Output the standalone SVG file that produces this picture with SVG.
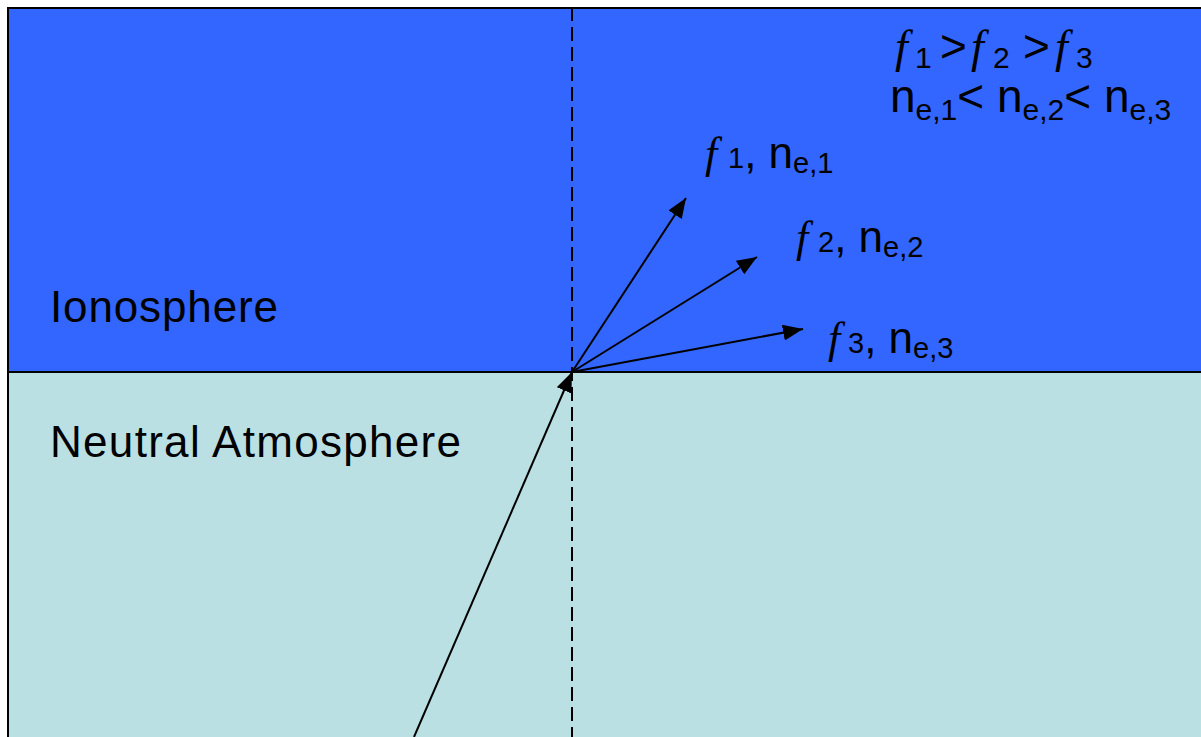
<svg xmlns="http://www.w3.org/2000/svg" width="1201" height="737" viewBox="0 0 1201 737">
<style>
.t{font-family:"Liberation Sans",Arial,sans-serif;font-size:44px;fill:#000}
.f{font-family:"Liberation Serif","Times New Roman",serif;font-style:italic}
.s{font-size:29px}
.big{font-size:46px}
.big .s{font-size:30px}
.ln{stroke:#000;stroke-width:2;fill:none}
</style>
<defs>
<marker id="ah" viewBox="0 0 20 16" refX="20" refY="8" markerWidth="20" markerHeight="16" markerUnits="userSpaceOnUse" orient="auto">
<path d="M0,0 L20,8 L0,16 Z" fill="#000"/>
</marker>
</defs>
<rect x="0" y="0" width="1201" height="737" fill="#fff"/>
<g id="ionosphere">
<rect x="7" y="7" width="1194" height="365" fill="#3366FF"/>
<text class="t" x="50" y="322" textLength="228">Ionosphere</text>
</g>
<g id="neutral-atmosphere">
<rect x="7" y="372" width="1194" height="365" fill="#BAE0E3"/>
<text class="t" x="50" y="457" textLength="411">Neutral Atmosphere</text>
</g>
<g id="borders">
<path class="ln" d="M7,8 H1201 M8,7 V737"/>
<path class="ln" d="M7,372 H1201"/>
<path class="ln" d="M572,7 V737" stroke-dasharray="14 6"/>
</g>
<g id="connectors">
<path class="ln" d="M414,737 L572,372" marker-end="url(#ah)"/>
<path class="ln" d="M572,372 L686,198" marker-end="url(#ah)"/>
<path class="ln" d="M572,372 L757,257" marker-end="url(#ah)"/>
<path class="ln" d="M572,372 L803,329" marker-end="url(#ah)"/>
</g>
<g id="relations">
<text class="t big" y="62"><tspan class="f" x="895">f</tspan><tspan class="s" x="915" dy="6">1</tspan><tspan x="940" dy="-6">&gt;</tspan><tspan class="f" x="971">f</tspan><tspan class="s" x="993" dy="6">2</tspan><tspan x="1023" dy="-6">&gt;</tspan><tspan class="f" x="1055">f</tspan><tspan class="s" x="1076" dy="6">3</tspan></text>
<text class="t big" y="112"><tspan x="890">n</tspan><tspan class="s" dy="8">e,1</tspan><tspan dy="-8">&lt; n</tspan><tspan class="s" dy="8">e,2</tspan><tspan dy="-8">&lt; n</tspan><tspan class="s" dy="8">e,3</tspan></text>
</g>
<g id="label-f1">
<text class="t" y="168"><tspan class="f" x="705">f</tspan><tspan class="s" x="728">1</tspan><tspan>, n</tspan><tspan class="s" dy="5">e,1</tspan></text>
</g>
<g id="label-f2">
<text class="t" y="252"><tspan class="f" x="796">f</tspan><tspan class="s" x="818">2</tspan><tspan>, n</tspan><tspan class="s" dy="5">e,2</tspan></text>
</g>
<g id="label-f3">
<text class="t" y="353"><tspan class="f" x="828">f</tspan><tspan class="s" x="848">3</tspan><tspan>, n</tspan><tspan class="s" dy="5">e,3</tspan></text>
</g>
</svg>
